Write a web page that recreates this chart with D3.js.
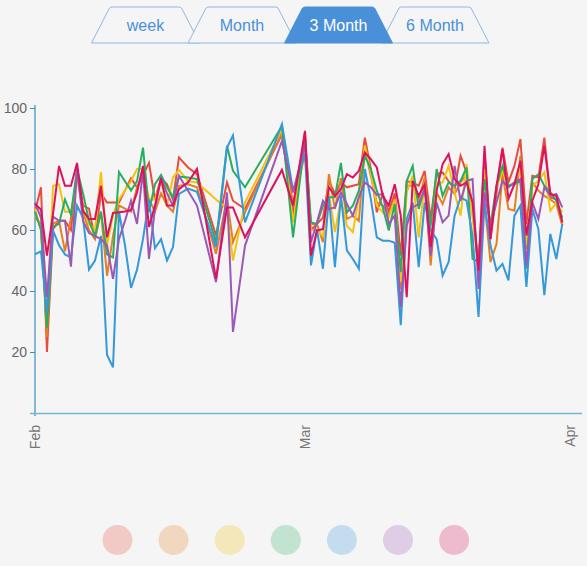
<!DOCTYPE html>
<html>
<head>
<meta charset="utf-8">
<script src="https://cdn.jsdelivr.net/npm/d3@7"></script>
<style>
  body { margin: 0; background: #f5f5f5; }
  svg { display: block; font-family: "Liberation Sans", Arial, sans-serif; }
</style>
</head>
<body>
<svg id="canvas"></svg>
<script>
const tabLabels = ["week", "Month", "3 Month", "6 Month"]
const activeTab = "3 Month"

const monthTicks = ["2015-02-01", "2015-03-01", "2015-04-01"]
const yTicks = [20, 40, 60, 80, 100]

// days since Feb 1 for every reading
const dayOffsets = [0, 0.62, 1.24, 1.87, 2.49, 3.11, 3.73, 4.36, 4.98, 5.6, 6.22, 6.84, 7.47, 8.09, 8.71, 9.33, 9.96, 10.58, 11.2, 11.82, 12.44, 13.07, 13.69,
  14.31, 14.93, 15.87, 16.8, 18.77, 19.91, 20.53, 21.78, 25.61, 26.76,
  28, 28.7, 29.4, 30.1, 30.8, 31.5, 32.2, 32.9, 33.6, 34.3, 35.0, 35.7, 36.4, 37.1, 37.8, 38.5, 39.2, 39.9, 40.6, 41.3, 42.0, 42.7,
  43.4, 44.1, 44.8, 45.5, 46.2, 46.9, 47.6, 48.3, 49.0, 49.7, 50.4, 51.1, 51.8, 52.5, 53.2, 53.9, 54.6, 55.3, 56.0, 56.7, 57.4, 58.1]

const redValues = [66, 74, 20, 60.3, 63, 63, 60, 80, 68, 67, 57, 72, 69, 69, 69, 73, 77, 74, 78, 82, 70, 77, 75,
  70, 83.8, 80.5, 78.3, 58.2, 75.6, 69.6, 66.9, 91.4, 65,
  92, 60, 62, 64, 76, 72, 75.6, 74, 74.5, 75, 90.3, 80, 65.8, 71.8, 66, 72, 51.6, 76, 75.6, 74.5, 79.4, 63.6,
  78.3, 78.9, 76, 73.4, 84.3, 78.9, 68, 47.8, 85, 57, 72, 87, 75.6, 81, 89.8, 62, 77.8, 77.2, 90.3, 70.7, 70, 62.5]
const orangeValues = [64, 62, 25, 62, 63, 53, 64, 78, 66, 60, 57, 66, 45, 58, 68, 67, 66, 74, 78, 70, 66, 72, 68,
  66, 74.5, 75, 74, 52.2, 70.2, 56, 65.8, 92, 68.5,
  85, 62, 62, 56, 78.3, 66.9, 77, 63.6, 64.7, 63, 86.5, 77.8, 69, 68, 65, 70, 40.7, 74.5, 74.5, 70, 77.2, 48.4,
  72.3, 68.5, 74, 71.8, 75.6, 78.3, 66, 47.3, 69, 49.5, 55.4, 78.3, 66.9, 66.3, 84.3, 53.8, 75.6, 72.9, 71.2, 70, 68.5, 61.4]
const yellowValues = [67, 60, 30, 74.5, 75, 66, 66, 77, 67, 62, 60, 79, 55, 65, 70, 73, 76, 80, 80, 70, 70, 76, 68,
  77.2, 79.7, 76, 75.6, 70, 67, 50, 69, 93, 62.5,
  88, 60, 60, 58, 72, 59.3, 70, 61.4, 59.3, 70.7, 87.6, 78.9, 68, 65.8, 64, 70, 42.9, 72.3, 77.8, 57.6, 75.6, 56,
  75.6, 75.6, 81, 72.3, 64.7, 81.6, 64, 48, 80, 60.3, 74, 79.4, 74.5, 75.6, 80.5, 55, 74.5, 76.1, 78.9, 66.3, 69, 65.8]
const greenValues = [66, 60, 28, 61, 62, 70, 65, 80, 72, 63, 58, 66, 52, 51, 79, 76, 73, 76, 87, 66, 75, 78, 74,
  70.7, 77.5, 77.2, 76.7, 56, 87.6, 79.4, 74, 94.1, 57.6,
  90, 62.5, 62, 68, 70.7, 70.7, 82, 65.8, 68, 72.9, 84.3, 80, 72.9, 67.4, 59.8, 68.5, 46.2, 76.1, 81, 66.9, 74, 61.4,
  80, 71.2, 75.6, 74.5, 76.1, 80.5, 50.5, 49.5, 76.7, 61.4, 74.5, 81, 74.5, 75, 76.1, 47.3, 76.7, 78.3, 74.5, 72.3, 69.6, 64]
const blueValues = [52, 53, 33, 59.8, 55, 52, 51, 68, 64, 47, 50, 58, 19, 15, 66, 55, 41, 47, 57, 70, 54, 57, 50,
  54.4, 71.8, 73.6, 72.5, 54.4, 87, 91, 62.5, 94.7, 72.9,
  85, 48.4, 60.3, 47.3, 70.7, 47.8, 71.2, 53.3, 50.5, 47.3, 80, 70.2, 57.6, 56.5, 56.5, 55.8, 28.8, 63.6, 69, 47.8, 69, 60,
  57, 45.1, 49.5, 64.7, 70.7, 69.6, 58.2, 31.5, 69, 54.9, 46.7, 48.9, 43.5, 64.7, 68, 41.3, 66.9, 60.3, 38.6, 58.7, 50.5, 62]
const purpleValues = [69, 64, 38, 64.4, 63, 63, 48, 80, 63, 59, 58, 57, 55, 44, 57, 63, 69.6, 62, 79.4, 50.5, 67, 77, 72,
  68, 77.8, 72.9, 68, 42.9, 72.3, 26.6, 54.9, 89.2, 72.3,
  88, 56, 62.5, 69.6, 66.9, 67.4, 72.3, 68.5, 64.7, 70.7, 75.6, 74, 71.5, 71.8, 62, 64.7, 34.7, 61.4, 67.4, 68.5, 73.4, 51.6,
  69, 62.5, 64.7, 81, 69.6, 76.1, 76.7, 40.7, 72.3, 61.4, 69, 76.1, 74, 75.6, 76.7, 48.4, 69, 63.6, 74, 71.2, 71.8, 67.4]
const crimsonValues = [68.5, 66.7, 51.6, 65.3, 81, 74.5, 74.5, 82, 66.3, 63.6, 63.6, 74.5, 57.6, 65.6, 65.8, 66.1, 66.6, 72.3, 81, 61, 68, 77, 68,
  68, 73.4, 75.6, 80, 44, 67.4, 67.4, 57.6, 79.7, 68,
  92.5, 51.6, 59.8, 60.3, 74, 71.2, 73.4, 78.3, 77.2, 79.4, 85.4, 83.2, 80.5, 71.2, 68, 75, 64.7, 38, 76.1, 71.2, 75, 54.4,
  72.9, 81.6, 84.9, 76.7, 74.5, 75.6, 69, 46.7, 87.6, 57, 74.5, 86.5, 70.2, 75, 82.7, 58.2, 69.6, 75, 87.6, 71.8, 71.2, 62.5]

const seriesColors = ["#e74c3c", "#e67e22", "#f3c40f", "#27ae60", "#3498db", "#9b59b6", "#dd115d"]
const seriesValues = [redValues, orangeValues, yellowValues, greenValues, blueValues, purpleValues, crimsonValues]

const width = 587
const height = 566

const canvas = d3.select("#canvas").attr("width", width).attr("height", height)

const feb1 = new Date(2015, 1, 1)
const dates = dayOffsets.map(d => new Date(feb1.getTime() + d * 86400000))
const tickDates = monthTicks.map(s => d3.timeParse("%Y-%m-%d")(s))

// months get equal-ish widths on this chart, so the time scale is piecewise
const xScale = d3.scaleTime().domain(tickDates).range([35, 305, 570])
const yScale = d3.scaleLinear().domain([0, 100]).range([413, 108])

// tabs
const tabs = canvas.append("g")
const tabOrder = tabLabels.map((t, i) => i).sort((a, b) => (tabLabels[a] === activeTab) - (tabLabels[b] === activeTab))
tabOrder.forEach(i => {
  const c = 145.5 + 96.5 * i
  const bw = 54
  const tw = 35
  const active = tabLabels[i] === activeTab
  tabs.append("path")
    .attr("d", `M${c - bw},43 L${c - tw - 1},8 Q${c - tw},7 ${c - tw + 2},7 L${c + tw - 2},7 Q${c + tw},7 ${c + tw + 1},8 L${c + bw},43 Z`)
    .attr("fill", active ? "#4a90d9" : "#f5f5f5")
    .attr("stroke", active ? "#4a90d9" : "#8fb8e6")
    .attr("stroke-width", 1)
  tabs.append("text")
    .attr("x", c)
    .attr("y", 31)
    .attr("text-anchor", "middle")
    .attr("font-size", 16)
    .attr("fill", active ? "#ffffff" : "#4a90d9")
    .text(tabLabels[i])
})

// axes
const yAxis = d3.axisLeft(yScale).tickValues(yTicks).tickSize(5).tickPadding(3)
const yG = canvas.append("g").attr("transform", "translate(35,0)").call(yAxis)
yG.select(".domain").remove()
yG.selectAll(".tick line").attr("stroke", "#3a8fb7")
yG.selectAll(".tick text").attr("fill", "#666").attr("font-size", 14).attr("font-family", "Liberation Sans, Arial, sans-serif")

canvas.append("line").attr("x1", 35).attr("x2", 35).attr("y1", 105).attr("y2", 416)
  .attr("stroke", "#3a8fb7").attr("stroke-width", 1.2)
canvas.append("line").attr("x1", 30).attr("x2", 582).attr("y1", 413.5).attr("y2", 413.5)
  .attr("stroke", "#74b9c9").attr("stroke-width", 1.5)

const xAxis = d3.axisBottom(xScale).tickValues(tickDates).tickSize(0).tickFormat(d3.timeFormat("%b"))
const xG = canvas.append("g").attr("transform", "translate(0,413)").call(xAxis)
xG.select(".domain").remove()
xG.selectAll(".tick text")
  .attr("fill", "#777")
  .attr("font-size", 14)
  .attr("font-family", "Liberation Sans, Arial, sans-serif")
  .attr("text-anchor", "end")
  .attr("transform", "translate(0,12) rotate(-90)")
  .attr("x", 0).attr("y", 0).attr("dy", "0.35em")

// lines
const line = d3.line()
  .x((v, i) => xScale(dates[i]))
  .y(v => yScale(v))

canvas.append("g").selectAll("path")
  .data(seriesValues)
  .enter()
  .append("path")
  .attr("d", line)
  .attr("fill", "none")
  .attr("stroke", (d, i) => seriesColors[i])
  .attr("stroke-width", 2)

// legend dots
canvas.append("g").selectAll("circle")
  .data(seriesColors)
  .enter()
  .append("circle")
  .attr("cx", (c, i) => 117.5 + 56.1 * i)
  .attr("cy", 540)
  .attr("r", 15)
  .attr("fill", c => c)
  .attr("opacity", 0.25)
</script>
</body>
</html>
